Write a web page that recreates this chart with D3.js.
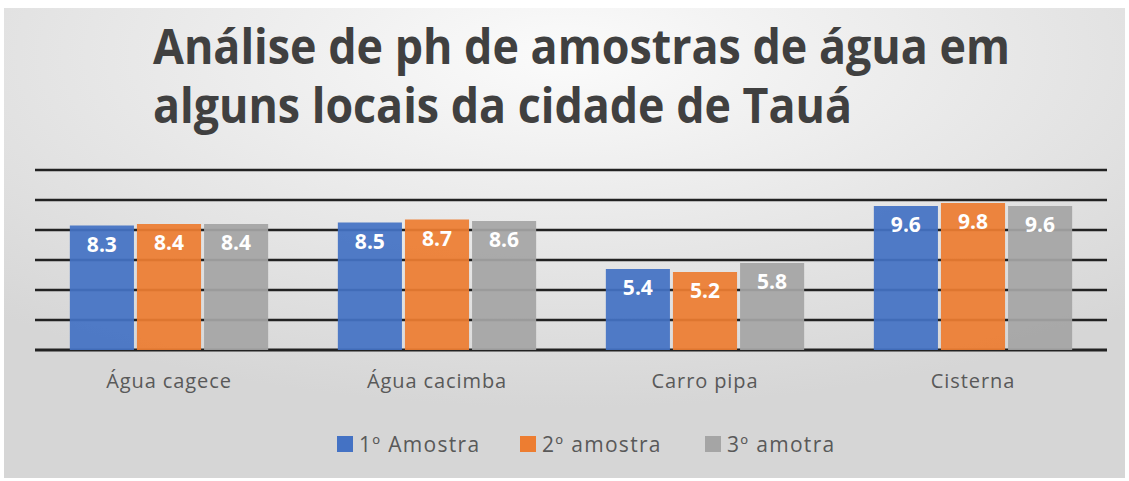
<!DOCTYPE html>
<html lang="pt">
<head>
<meta charset="UTF-8">
<script src="https://d3js.org/d3.v7.min.js"></script>
<title>Análise de ph</title>
<style>
  body { margin: 0; background: #fff; overflow: hidden; }
  text { font-family: "Open Sans", "Noto Sans", sans-serif; }
</style>
</head>
<body>
<script>
// dados
var locais = ["Água cagece", "Água cacimba", "Carro pipa", "Cisterna"];
var series = ["1º Amostra", "2º amostra", "3º amotra"];
var amostra1 = [8.3, 8.5, 5.4, 9.6];
var amostra2 = [8.4, 8.7, 5.2, 9.8];
var amostra3 = [8.4, 8.6, 5.8, 9.6];
var yTicks = [0, 2, 4, 6, 8, 10, 12];
var cores = ["#4472C4", "#ED7D31", "#A5A5A5"];

var valores = [amostra1, amostra2, amostra3];

var width = 1129, height = 481;

var svg = d3.select("body").append("svg")
    .attr("width", width)
    .attr("height", height);

// fundo com gradiente
var defs = svg.append("defs");
var grad = defs.append("radialGradient")
    .attr("id", "fundo")
    .attr("cx", "50%").attr("cy", "10%").attr("r", "75%");
grad.append("stop").attr("offset", "0%").attr("stop-color", "#fbfbfb");
grad.append("stop").attr("offset", "100%").attr("stop-color", "#d6d6d6");

svg.append("rect")
    .attr("x", 4).attr("y", 8)
    .attr("width", 1121).attr("height", 470)
    .attr("fill", "url(#fundo)");

// titulo (fonte estreita como a Calibri: comprimir na horizontal)
var titulo = svg.append("g")
    .attr("font-weight", "bold")
    .attr("fill", "#404040")
    .attr("font-size", 48);
titulo.append("text").attr("x", 153).attr("y", 64)
    .attr("textLength", 857).attr("lengthAdjust", "spacingAndGlyphs")
    .text("Análise de ph de amostras de água em");
titulo.append("text").attr("x", 153).attr("y", 123)
    .attr("textLength", 699).attr("lengthAdjust", "spacingAndGlyphs")
    .text("alguns locais da cidade de Tauá");

var x0 = d3.scaleBand()
    .domain(locais)
    .range([35, 1107])
    .paddingInner(0.26)
    .paddingOuter(0.13);

var x1 = d3.scaleBand()
    .domain(d3.range(series.length))
    .range([0, x0.bandwidth()])
    .paddingInner(0.045);

var y = d3.scaleLinear()
    .domain([0, 12])
    .range([350, 170]);

// linhas de grade
svg.append("g")
  .selectAll("line")
  .data(yTicks)
  .join("line")
    .attr("x1", 35).attr("x2", 1107)
    .attr("y1", d => y(d)).attr("y2", d => y(d))
    .attr("stroke", "#222")
    .attr("stroke-width", d => d === 0 ? 3.2 : 2.4);

// barras
var grupos = svg.append("g")
  .selectAll("g")
  .data(locais)
  .join("g")
    .attr("transform", d => "translate(" + x0(d) + ",0)");

grupos.selectAll("rect")
  .data((d, i) => valores.map((s, k) => ({k: k, v: s[i]})))
  .join("rect")
    .attr("x", d => x1(d.k))
    .attr("y", d => y(d.v))
    .attr("width", x1.bandwidth())
    .attr("height", d => y(0) - y(d.v))
    .attr("fill", d => cores[d.k])
    .attr("fill-opacity", 0.93);

grupos.selectAll("text")
  .data((d, i) => valores.map((s, k) => ({k: k, v: s[i]})))
  .join("text")
    .attr("x", d => x1(d.k) + x1.bandwidth() / 2)
    .attr("y", d => y(d.v) + 26)
    .attr("text-anchor", "middle")
    .attr("fill", "#fff")
    .attr("font-weight", "bold")
    .attr("font-size", 21)
    .text(d => d.v.toFixed(1));

// eixo x
var eixoX = svg.append("g")
    .attr("transform", "translate(0,350)")
    .call(d3.axisBottom(x0).tickSize(0).tickPadding(24));
eixoX.select(".domain").remove();
eixoX.selectAll("text")
    .attr("font-size", 20)
    .attr("fill", "#595959")
    .attr("letter-spacing", 0.9)
    .style("font-family", "'Open Sans', sans-serif");

// legenda
var legX = [337, 520, 705];
var legenda = svg.append("g")
  .selectAll("g")
  .data(series)
  .join("g")
    .attr("transform", (d, i) => "translate(" + legX[i] + ",436)");
legenda.append("rect")
    .attr("width", 16).attr("height", 16)
    .attr("fill", (d, i) => cores[i]);
legenda.append("text")
    .attr("x", 22).attr("y", 16)
    .attr("font-size", 21)
    .attr("letter-spacing", 1.3)
    .attr("fill", "#595959")
    .text(d => d);
</script>
</body>
</html>
